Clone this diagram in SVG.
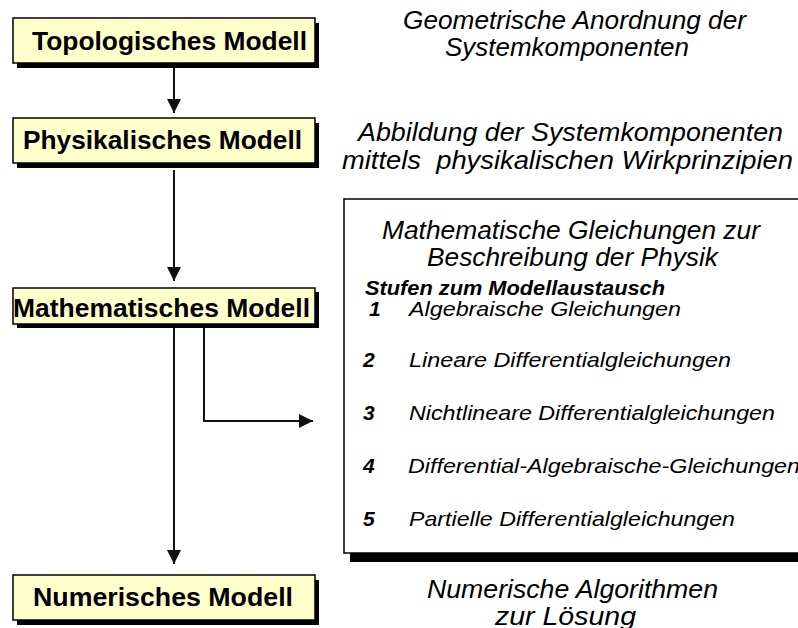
<svg xmlns="http://www.w3.org/2000/svg" width="798" height="628" viewBox="0 0 798 628">
<defs>
<marker id="ah" markerWidth="14" markerHeight="16" refX="14" refY="7" orient="auto" markerUnits="userSpaceOnUse">
<path d="M0,0 L14,7 L0,14 Z" fill="#111"/>
</marker>
<style>
.box{fill:#FFFFCC;stroke:#000;stroke-width:1.5}
.sh{fill:#000}
.nt{font-family:"Liberation Sans",Arial,sans-serif;font-weight:bold;font-size:25.5px;fill:#000}
.it{font-family:"Liberation Sans",Arial,sans-serif;font-style:italic;font-size:25.5px;fill:#000}
.sm{font-family:"Liberation Sans",Arial,sans-serif;font-style:italic;font-size:21px;fill:#000}
.num{font-family:"Liberation Sans",Arial,sans-serif;font-style:italic;font-weight:bold;font-size:21px;fill:#000}
.ln{fill:none;stroke:#111;stroke-width:2}
</style>
</defs>
<rect width="798" height="628" fill="#fff"/>
<g id="connectors">
<line class="ln" x1="174" y1="66" x2="174" y2="113" marker-end="url(#ah)"/>
<line class="ln" x1="174" y1="170" x2="174" y2="281" marker-end="url(#ah)"/>
<line class="ln" x1="174" y1="328" x2="174" y2="564" marker-end="url(#ah)"/>
<polyline class="ln" points="204,328 204,421 313,421" marker-end="url(#ah)"/>
</g>
<g id="topologisch">
<rect class="sh" x="17" y="23" width="302" height="45"/>
<rect class="box" x="13" y="18" width="302" height="45"/>
<text class="nt" x="32" y="50" textLength="275" lengthAdjust="spacingAndGlyphs">Topologisches Modell</text>
</g>
<g id="physikalisch">
<rect class="sh" x="17" y="123" width="302" height="45"/>
<rect class="box" x="13" y="118" width="302" height="45"/>
<text class="nt" x="23" y="149" textLength="279" lengthAdjust="spacingAndGlyphs">Physikalisches Modell</text>
</g>
<g id="mathematisch">
<rect class="sh" x="17" y="292" width="302" height="36"/>
<rect class="box" x="13" y="288" width="302" height="36"/>
<text class="nt" x="13" y="317" textLength="297" lengthAdjust="spacingAndGlyphs">Mathematisches Modell</text>
</g>
<g id="numerisch">
<rect class="sh" x="17" y="580" width="302" height="45"/>
<rect class="box" x="13" y="575" width="302" height="45"/>
<text class="nt" x="33" y="606" textLength="260" lengthAdjust="spacingAndGlyphs">Numerisches Modell</text>
</g>
<g id="text-topologisch">
<text class="it" x="403" y="29" textLength="343" lengthAdjust="spacingAndGlyphs">Geometrische Anordnung der</text>
<text class="it" x="445" y="56" textLength="244" lengthAdjust="spacingAndGlyphs">Systemkomponenten</text>
</g>
<g id="text-physikalisch">
<text class="it" x="358" y="141" textLength="425" lengthAdjust="spacingAndGlyphs">Abbildung der Systemkomponenten</text>
<text class="it" x="342" y="169" textLength="451" lengthAdjust="spacingAndGlyphs" xml:space="preserve">mittels  physikalischen Wirkprinzipien</text>
</g>
<g id="gleichungen">
<rect class="sh" x="350" y="206" width="460" height="356"/>
<rect x="344" y="199" width="460" height="354" fill="#fff" stroke="#000" stroke-width="1.5"/>
<text class="it" x="382" y="239" textLength="378" lengthAdjust="spacingAndGlyphs">Mathematische Gleichungen zur</text>
<text class="it" x="427" y="266" textLength="291" lengthAdjust="spacingAndGlyphs">Beschreibung der Physik</text>
<text class="num" x="365" y="295" textLength="300" lengthAdjust="spacingAndGlyphs">Stufen zum Modellaustausch</text>
<text class="num" x="369" y="316">1</text>
<text class="sm" x="409" y="316" textLength="272" lengthAdjust="spacingAndGlyphs">Algebraische Gleichungen</text>
<text class="num" x="363" y="367">2</text>
<text class="sm" x="409" y="367" textLength="322" lengthAdjust="spacingAndGlyphs">Lineare Differentialgleichungen</text>
<text class="num" x="363" y="420">3</text>
<text class="sm" x="409" y="420" textLength="366" lengthAdjust="spacingAndGlyphs">Nichtlineare Differentialgleichungen</text>
<text class="num" x="363" y="473">4</text>
<text class="sm" x="408" y="473" textLength="392" lengthAdjust="spacingAndGlyphs">Differential-Algebraische-Gleichungen</text>
<text class="num" x="363" y="526">5</text>
<text class="sm" x="409" y="526" textLength="326" lengthAdjust="spacingAndGlyphs">Partielle Differentialgleichungen</text>
</g>
<g id="text-numerisch">
<text class="it" x="427" y="598" textLength="291" lengthAdjust="spacingAndGlyphs">Numerische Algorithmen</text>
<text class="it" x="495" y="625" textLength="141" lengthAdjust="spacingAndGlyphs">zur Lösung</text>
</g>
</svg>
